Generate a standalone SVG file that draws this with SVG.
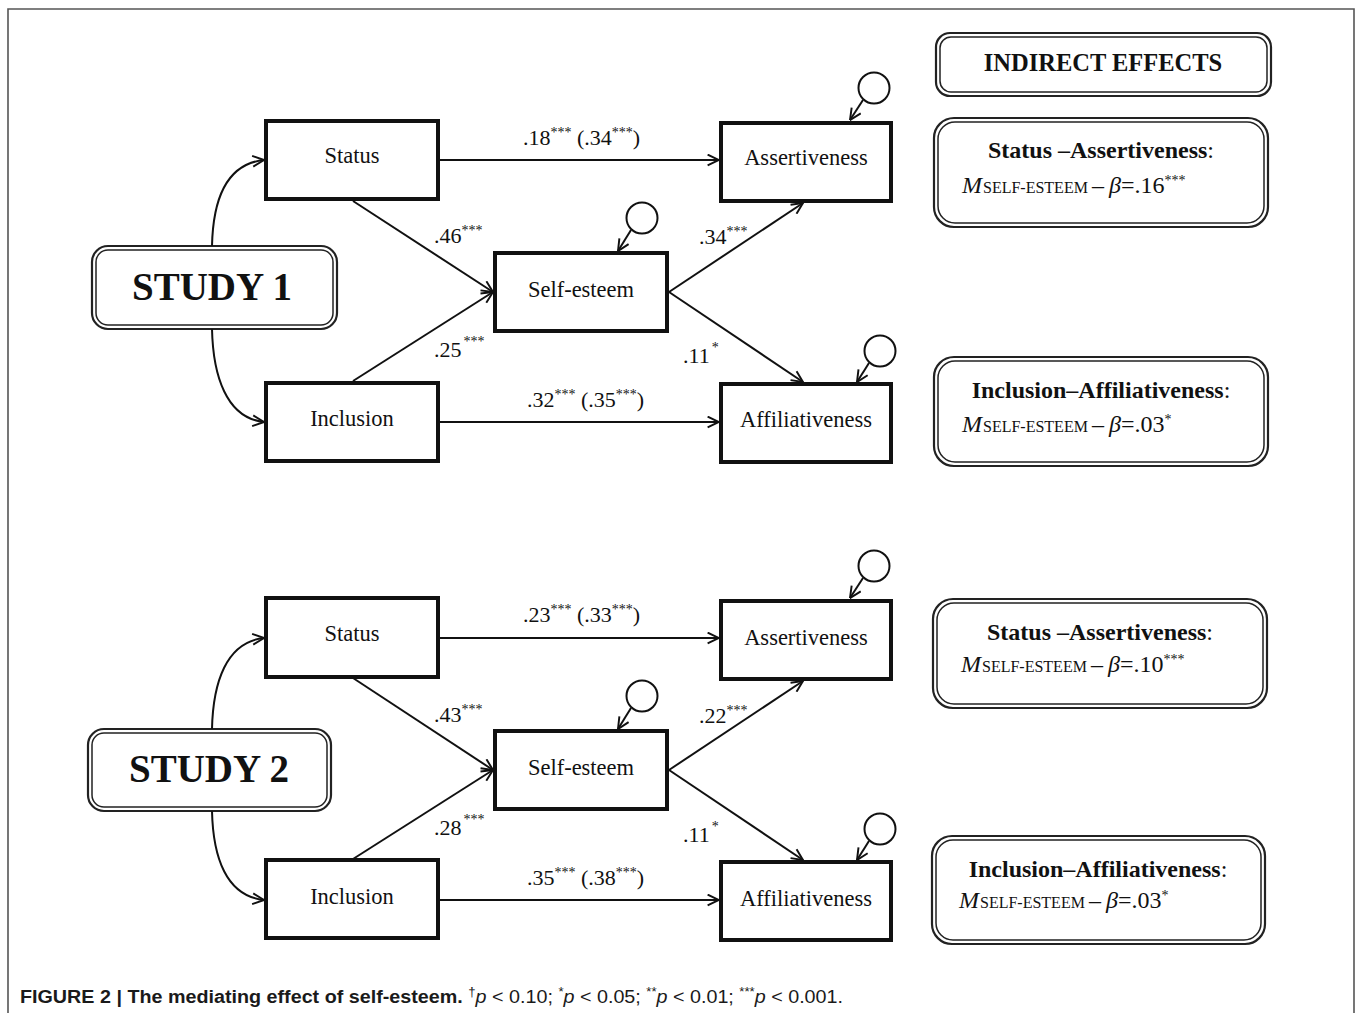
<svg xmlns="http://www.w3.org/2000/svg" width="1357" height="1013" viewBox="0 0 1357 1013">
<style>
  text { font-family: "Liberation Serif", "Times New Roman", serif; fill: #111; }
  .node rect.box { fill: #fff; stroke: #111; stroke-width: 4; }
  .lbl { font-size: 22px; }
  .nl { font-size: 22.5px; text-anchor: middle; }
  .sup { font-size: 14px; }
  .conn path, .conn line { fill: none; stroke: #111; stroke-width: 2; }
  .err { fill: #fff; stroke: #111; stroke-width: 2; }
  .o { fill: none; stroke: #222; stroke-width: 2.2; }
  .i { fill: none; stroke: #222; stroke-width: 1.5; }
  .big { font-size: 39px; font-weight: bold; text-anchor: middle; }
  .hd { font-size: 24px; font-weight: bold; text-anchor: middle; }
  .l2 { font-size: 24px; }
  .sm { font-size: 16px; }
  .frame { stroke: #555; stroke-width: 1.6; fill: none; }
  .cap { font-family: "Liberation Sans", Arial, sans-serif; font-size: 18px; fill: #1a1a1a; }
</style>
<defs>
  <marker id="ah" viewBox="0 0 12 12" refX="11.5" refY="6" markerWidth="13" markerHeight="13" markerUnits="userSpaceOnUse" orient="auto">
    <path d="M1,1 L11.5,6 L1,11" fill="none" stroke="#111" stroke-width="1.8"/>
  </marker>
</defs>

<path class="frame" d="M8,1013 L8,9 L1354,9 L1354,1013"/>

<!-- ===== STUDY 1 ===== -->
<g id="study1">
  <rect class="o" x="92" y="246" width="245" height="83" rx="16"/>
  <rect class="i" x="96" y="250" width="237" height="75" rx="12"/>
  <text class="big" x="212" y="300">STUDY 1</text>
</g>
<g id="s1-status" class="node"><rect class="box" x="266" y="121" width="172" height="78"/><text class="nl" x="352" y="163">Status</text></g>
<g id="s1-inclusion" class="node"><rect class="box" x="266" y="383" width="172" height="78"/><text class="nl" x="352" y="426">Inclusion</text></g>
<g id="s1-selfesteem" class="node"><rect class="box" x="495" y="253" width="172" height="78"/><text class="nl" x="581" y="297">Self-esteem</text></g>
<g id="s1-assert" class="node"><rect class="box" x="721" y="123" width="170" height="78"/><text class="nl" x="806" y="165">Assertiveness</text></g>
<g id="s1-affil" class="node"><rect class="box" x="721" y="384" width="170" height="78"/><text class="nl" x="806" y="427">Affiliativeness</text></g>
<g id="s1-e-assert"><circle class="err" cx="874" cy="88" r="15.5"/></g>
<g id="s1-e-self"><circle class="err" cx="642" cy="218" r="15.5"/></g>
<g id="s1-e-affil"><circle class="err" cx="880" cy="351" r="15.5"/></g>

<g id="s1-ind-title">
  <rect class="o" x="936" y="33" width="335" height="63" rx="14"/>
  <rect class="i" x="940" y="37" width="327" height="55" rx="11"/>
  <text class="hd" x="1103" y="71" style="font-size:24.5px">INDIRECT EFFECTS</text>
</g>
<g id="s1-ind-sa">
  <rect class="o" x="934" y="118" width="334" height="109" rx="20"/>
  <rect class="i" x="938" y="122" width="326" height="101" rx="17"/>
  <text class="hd" x="1101" y="158">Status –Assertiveness<tspan font-weight="normal">:</tspan></text>
  <text class="l2" y="193"><tspan x="962" font-style="italic">M</tspan><tspan class="sm" x="983">SELF-ESTEEM</tspan><tspan x="1092">–</tspan><tspan x="1109" font-style="italic">β</tspan><tspan>=.16</tspan><tspan class="sup" dy="-8">***</tspan></text>
</g>
<g id="s1-ind-ia">
  <rect class="o" x="934" y="357" width="334" height="109" rx="20"/>
  <rect class="i" x="938" y="361" width="326" height="101" rx="17"/>
  <text class="hd" x="1101" y="398">Inclusion–Affiliativeness<tspan font-weight="normal">:</tspan></text>
  <text class="l2" y="432"><tspan x="962" font-style="italic">M</tspan><tspan class="sm" x="983">SELF-ESTEEM</tspan><tspan x="1092">–</tspan><tspan x="1109" font-style="italic">β</tspan><tspan>=.03</tspan><tspan class="sup" dy="-8">*</tspan></text>
</g>

<g id="s1-connectors" class="conn">
  <path d="M212,246 C213,200 226,164 264,160" marker-end="url(#ah)"/>
  <path d="M212,329 C213,375 226,418 264,422" marker-end="url(#ah)"/>
  <line x1="440" y1="160" x2="719" y2="160" marker-end="url(#ah)"/>
  <line x1="440" y1="422" x2="719" y2="422" marker-end="url(#ah)"/>
  <line x1="353" y1="201" x2="493" y2="292" marker-end="url(#ah)"/>
  <line x1="353" y1="381" x2="493" y2="292" marker-end="url(#ah)"/>
  <line x1="669" y1="292" x2="803" y2="203" marker-end="url(#ah)"/>
  <line x1="669" y1="292" x2="803" y2="382" marker-end="url(#ah)"/>
  <line x1="863" y1="100" x2="850" y2="120" marker-end="url(#ah)"/>
  <line x1="631" y1="230" x2="618" y2="251" marker-end="url(#ah)"/>
  <line x1="869" y1="363" x2="857" y2="382" marker-end="url(#ah)"/>
</g>
<g id="s1-labels">
  <text class="lbl" x="523" y="145">.18<tspan class="sup" dy="-8">***</tspan><tspan dy="8"> (.34</tspan><tspan class="sup" dy="-8">***</tspan><tspan dy="8">)</tspan></text>
  <text class="lbl" x="434" y="243">.46<tspan class="sup" dy="-8">***</tspan></text>
  <text class="lbl" x="434" y="357">.25<tspan class="sup" dx="2" dy="-11">***</tspan></text>
  <text class="lbl" x="699" y="244">.34<tspan class="sup" dy="-8">***</tspan></text>
  <text class="lbl" x="683" y="363">.11<tspan class="sup" dx="2" dy="-11">*</tspan></text>
  <text class="lbl" x="527" y="407">.32<tspan class="sup" dy="-8">***</tspan><tspan dy="8"> (.35</tspan><tspan class="sup" dy="-8">***</tspan><tspan dy="8">)</tspan></text>
</g>

<!-- ===== STUDY 2 ===== -->
<g id="study2">
  <rect class="o" x="88" y="729" width="243" height="82" rx="16"/>
  <rect class="i" x="92" y="733" width="235" height="74" rx="12"/>
  <text class="big" x="209" y="782">STUDY 2</text>
</g>
<g id="s2-status" class="node"><rect class="box" x="266" y="598" width="172" height="79"/><text class="nl" x="352" y="641">Status</text></g>
<g id="s2-inclusion" class="node"><rect class="box" x="266" y="860" width="172" height="78"/><text class="nl" x="352" y="904">Inclusion</text></g>
<g id="s2-selfesteem" class="node"><rect class="box" x="495" y="731" width="172" height="78"/><text class="nl" x="581" y="775">Self-esteem</text></g>
<g id="s2-assert" class="node"><rect class="box" x="721" y="601" width="170" height="78"/><text class="nl" x="806" y="645">Assertiveness</text></g>
<g id="s2-affil" class="node"><rect class="box" x="721" y="862" width="170" height="78"/><text class="nl" x="806" y="906">Affiliativeness</text></g>
<g id="s2-e-assert"><circle class="err" cx="874" cy="566" r="15.5"/></g>
<g id="s2-e-self"><circle class="err" cx="642" cy="696" r="15.5"/></g>
<g id="s2-e-affil"><circle class="err" cx="880" cy="829" r="15.5"/></g>

<g id="s2-ind-sa">
  <rect class="o" x="933" y="599" width="334" height="109" rx="20"/>
  <rect class="i" x="937" y="603" width="326" height="101" rx="17"/>
  <text class="hd" x="1100" y="640">Status –Assertiveness<tspan font-weight="normal">:</tspan></text>
  <text class="l2" y="672"><tspan x="961" font-style="italic">M</tspan><tspan class="sm" x="982">SELF-ESTEEM</tspan><tspan x="1091">–</tspan><tspan x="1108" font-style="italic">β</tspan><tspan>=.10</tspan><tspan class="sup" dy="-8">***</tspan></text>
</g>
<g id="s2-ind-ia">
  <rect class="o" x="932" y="836" width="333" height="108" rx="20"/>
  <rect class="i" x="936" y="840" width="325" height="100" rx="17"/>
  <text class="hd" x="1098" y="877">Inclusion–Affiliativeness<tspan font-weight="normal">:</tspan></text>
  <text class="l2" y="908"><tspan x="959" font-style="italic">M</tspan><tspan class="sm" x="980">SELF-ESTEEM</tspan><tspan x="1089">–</tspan><tspan x="1106" font-style="italic">β</tspan><tspan>=.03</tspan><tspan class="sup" dy="-8">*</tspan></text>
</g>

<g id="s2-connectors" class="conn">
  <path d="M212,729 C213,683 226,642 264,638" marker-end="url(#ah)"/>
  <path d="M212,811 C213,857 226,896 264,900" marker-end="url(#ah)"/>
  <line x1="440" y1="638" x2="719" y2="638" marker-end="url(#ah)"/>
  <line x1="440" y1="900" x2="719" y2="900" marker-end="url(#ah)"/>
  <line x1="353" y1="678" x2="493" y2="770" marker-end="url(#ah)"/>
  <line x1="353" y1="859" x2="493" y2="770" marker-end="url(#ah)"/>
  <line x1="669" y1="770" x2="803" y2="681" marker-end="url(#ah)"/>
  <line x1="669" y1="770" x2="803" y2="860" marker-end="url(#ah)"/>
  <line x1="863" y1="578" x2="850" y2="598" marker-end="url(#ah)"/>
  <line x1="631" y1="708" x2="618" y2="729" marker-end="url(#ah)"/>
  <line x1="869" y1="841" x2="857" y2="860" marker-end="url(#ah)"/>
</g>
<g id="s2-labels">
  <text class="lbl" x="523" y="622">.23<tspan class="sup" dy="-8">***</tspan><tspan dy="8"> (.33</tspan><tspan class="sup" dy="-8">***</tspan><tspan dy="8">)</tspan></text>
  <text class="lbl" x="434" y="722">.43<tspan class="sup" dy="-8">***</tspan></text>
  <text class="lbl" x="434" y="835">.28<tspan class="sup" dx="2" dy="-11">***</tspan></text>
  <text class="lbl" x="699" y="723">.22<tspan class="sup" dy="-8">***</tspan></text>
  <text class="lbl" x="683" y="842">.11<tspan class="sup" dx="2" dy="-11">*</tspan></text>
  <text class="lbl" x="527" y="885">.35<tspan class="sup" dy="-8">***</tspan><tspan dy="8"> (.38</tspan><tspan class="sup" dy="-8">***</tspan><tspan dy="8">)</tspan></text>
</g>

<text class="cap" x="20" y="1003" textLength="823" lengthAdjust="spacingAndGlyphs"><tspan font-weight="bold">FIGURE 2 | The mediating effect of self-esteem.</tspan> <tspan font-size="12" dy="-7">†</tspan><tspan dy="7" font-style="italic">p</tspan> &lt; 0.10; <tspan font-size="12" dy="-7">*</tspan><tspan dy="7" font-style="italic">p</tspan> &lt; 0.05; <tspan font-size="12" dy="-7">**</tspan><tspan dy="7" font-style="italic">p</tspan> &lt; 0.01; <tspan font-size="12" dy="-7">***</tspan><tspan dy="7" font-style="italic">p</tspan> &lt; 0.001.</text>
</svg>
